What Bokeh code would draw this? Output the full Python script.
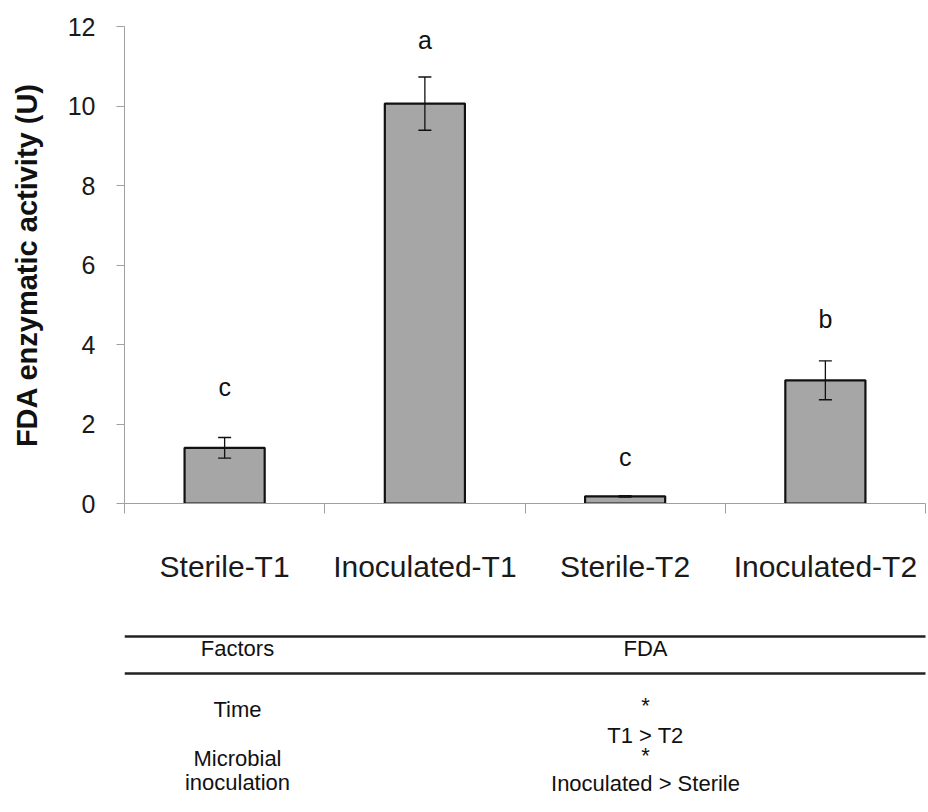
from bokeh.plotting import figure
from bokeh.models import (Range1d, FixedTicker, ColumnDataSource, Whisker, TeeHead)
from bokeh.layouts import column
from bokeh.core.properties import value
from bokeh.embed import file_html
from bokeh.resources import INLINE

# ---- data ----
categories = ["Sterile-T1", "Inoculated-T1", "Sterile-T2", "Inoculated-T2"]
means = [1.40, 10.06, 0.18, 3.10]
errors = [0.26, 0.67, 0.02, 0.49]
letters = ["c", "a", "c", "b"]
letter_y = [2.94, 11.67, 1.18, 4.65]
y_ticks = [0, 2, 4, 6, 8, 10, 12]
y_label = "FDA enzymatic activity (U)"

table_header = ["Factors", "FDA"]
table_factors = ["Time", "Microbial", "inoculation"]
table_results = ["*", "T1 > T2", "*", "Inoculated > Sterile"]

FONT = "Liberation Sans"
W = 926
H1 = 600
H2 = 210
FRAME_L = 124
FRAME_R = 925

xs = [i + 0.5 for i in range(len(categories))]
src = ColumnDataSource(dict(
    x=xs, top=means,
    upper=[m + e for m, e in zip(means, errors)],
    lower=[m - e for m, e in zip(means, errors)],
    letter=letters, ly=letter_y,
))

p = figure(width=W, height=H1, output_backend="svg", toolbar_location=None,
           x_range=Range1d(0, len(categories)), y_range=Range1d(0, 12),
           min_border_left=FRAME_L, min_border_right=W - FRAME_R,
           min_border_top=26, min_border_bottom=97)
p.outline_line_color = None
p.xgrid.visible = False
p.ygrid.visible = False
p.background_fill_color = "white"
p.border_fill_color = "white"

p.vbar(x="x", top="top", width=0.4, bottom=0, source=src,
       fill_color="#a6a6a6", line_color="#111111", line_width=2.2)

w = Whisker(base="x", upper="upper", lower="lower", source=src,
            line_color="#111111", line_width=1.3, level="overlay",
            upper_head=TeeHead(size=13, line_color="#111111", line_width=1.3),
            lower_head=TeeHead(size=13, line_color="#111111", line_width=1.3))
p.add_layout(w)

p.text(x="x", y="ly", text="letter", source=src, text_align="center",
       text_baseline="alphabetic", text_font=value(FONT),
       text_font_size="25px", text_color="#111111")

# y axis
ya = p.yaxis[0]
ya.ticker = FixedTicker(ticks=y_ticks)
ya.axis_line_color = "#a0a0a0"
ya.major_tick_line_color = "#a0a0a0"
ya.major_tick_out = 8
ya.major_tick_in = 0
ya.minor_tick_line_color = None
ya.major_label_text_font = FONT
ya.major_label_text_font_size = "25px"
ya.major_label_text_color = "#1a1a1a"
ya.major_label_standoff = 21
ya.axis_label = y_label
ya.axis_label_text_font = FONT
ya.axis_label_text_font_style = "bold"
ya.axis_label_text_font_size = "29px"
ya.axis_label_text_color = "#111111"
ya.axis_label_standoff = 22

# x axis: labels at category centres, ticks at category boundaries
xa = p.xaxis[0]
xa.ticker = FixedTicker(ticks=xs, minor_ticks=list(range(len(categories) + 1)))
xa.major_label_overrides = {x: c for x, c in zip(xs, categories)}
xa.axis_line_color = "#a0a0a0"
xa.major_tick_line_color = None
xa.major_tick_out = 0
xa.major_tick_in = 0
xa.minor_tick_line_color = "#a0a0a0"
xa.minor_tick_out = 10
xa.minor_tick_in = 0
xa.major_label_text_font = FONT
xa.major_label_text_font_size = "30px"
xa.major_label_text_color = "#1a1a1a"
xa.major_label_standoff = 36

# ---- table below (page-pixel coordinates; frame aligned with the plot) ----
t = figure(width=W, height=H2, output_backend="svg", toolbar_location=None,
           x_range=Range1d(FRAME_L, FRAME_R), y_range=Range1d(H2, 0),
           min_border=0, min_border_left=FRAME_L,
           min_border_right=W - FRAME_R)
t.outline_line_color = None
t.axis.visible = False
t.grid.visible = False

col_f = 237
col_r = 645
row_lines = [636 - H1, 673 - H1]
t.segment(x0=[FRAME_L, FRAME_L], x1=[FRAME_R + 5] * 2, y0=row_lines,
          y1=row_lines, line_color="#222222", line_width=2.4)

tx = [col_f, col_r] + [col_f] * 3 + [col_r] * 4
ty = [648, 648, 709, 758, 782, 705, 735, 755, 783]
ttext = table_header + table_factors + table_results
t.text(x=tx, y=[v - H1 for v in ty], text=ttext, text_align="center",
       text_baseline="middle", text_font=value(FONT),
       text_font_size="22px", text_color="#111111")

layout = column(p, t, spacing=0)
open("out.html", "w").write(file_html(layout, INLINE))
